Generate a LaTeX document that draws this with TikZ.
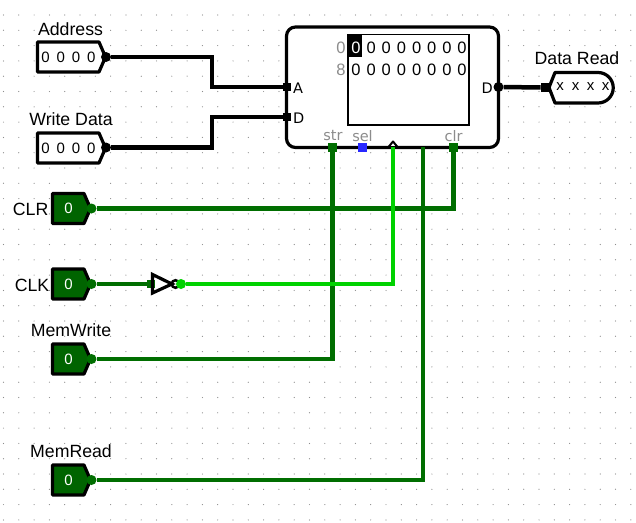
\documentclass[tikz,border=0pt]{standalone}
\usepackage{fontspec}
\setmainfont{Liberation Sans}
\newfontfamily\logicfont{DejaVu Sans}
\definecolor{wireoff}{HTML}{006E00}
\definecolor{wireon}{HTML}{00D200}
\definecolor{pinfill}{HTML}{006400}
\definecolor{portgray}{HTML}{8C8C8C}
\definecolor{portblue}{HTML}{2828FF}
\tikzset{
  wire/.style={line width=4.5pt,line join=miter},
  wirebus/.style={wire,black},
  wirelow/.style={wire,wireoff},
  wirehigh/.style={wire,wireon},
  outline/.style={line width=3.2pt,line join=round,draw=black},
  pinlabel/.style={font=\fontsize{17.7}{20}\selectfont,inner sep=0pt},
  pinbit/.style={font=\fontsize{15}{17}\selectfont,inner sep=0pt},
  membit/.style={font=\fontsize{16.5}{18}\selectfont,inner sep=0pt},
  portlabel/.style={font=\logicfont\fontsize{14.5}{17}\selectfont,inner sep=0pt},
  portname/.style={portlabel,text=portgray},
  port/.style={draw=none,fill=#1,minimum size=8.5pt,inner sep=0pt},
  tip/.style={circle,fill=#1,minimum size=10pt,inner sep=0pt}
}
\begin{document}
\begin{tikzpicture}[x=1pt,y=-1pt]
  \useasboundingbox (0,0) rectangle (636,522);
  \fill[white] (0,0) rectangle (636,522);
  \foreach \i in {0,...,41}
    \foreach \j in {0,...,33}
      \fill[black!45] ({3.5+15.3*\i},{15+15.3*\j}) circle (0.6);

  \draw[outline,fill=white,rounded corners=9] (286.5,27) rectangle (498.5,147.5);
  \draw[line width=1.5pt,fill=white] (348,34.5) rectangle (469,125);
  \fill[black] (348,34.5) rectangle (362,57);
  \node[membit,text=white] (mem0) at (356,47.5) {0};
  \foreach \col/\xm in {1/371.3,2/386.3,3/401.5,4/416.7,5/431.8,6/447,7/462}
    \node[membit] (mem0\col) at (\xm,47.5) {0};
  \foreach \col/\xm in {0/356,1/371.3,2/386.3,3/401.5,4/416.7,5/431.8,6/447,7/462}
    \node[membit] (mem8\col) at (\xm,70) {0};
  \node[membit,text=portgray] (row0) at (341,47.5) {0};
  \node[membit,text=portgray] (row8) at (341,70) {8};

  \node[port=black] (portA) at (287,87) {};
  \node[port=black] (portD) at (287,117) {};
  \node[tip=black] (portOut) at (498.5,87) {};
  \node[port=wireoff] (portStr) at (332.5,147.5) {};
  \node[port=portblue] (portSel) at (362.5,147.5) {};
  \node[port=wireoff] (portClr) at (453.5,147.5) {};
  \coordinate (portClk) at (393,147);
  \coordinate (portRead) at (423,147);
  \node[portlabel,anchor=west] (lblA) at (293,88) {A};
  \node[portlabel,anchor=west] (lblD) at (293,118) {D};
  \node[portlabel,anchor=east] (lblOut) at (493,88) {D};
  \node[portname] (lblStr) at (333,136) {str};
  \node[portname] (lblSel) at (362.5,136) {sel};
  \node[portname] (lblClr) at (453.5,136) {clr};

  \draw[outline,line width=2pt,fill=white] (388.5,147) -- (393,141.5) -- (397.5,147) -- cycle;

  \draw[outline,fill=white] (37.5,42) -- (99,42) -- (105.5,57) -- (99,72) -- (37.5,72) -- cycle;
  \draw[outline,fill=white] (37.5,133) -- (99,133) -- (105.5,148) -- (99,163) -- (37.5,163) -- cycle;
  \node[tip=black] (addrTip) at (106,57) {};
  \node[tip=black] (writeTip) at (106,147.5) {};
  \foreach \pos/\xm in {1/45.5,2/60.7,3/76,4/91.3} {
    \node[pinbit] (addr\pos) at (\xm,57) {0};
    \node[pinbit] (write\pos) at (\xm,148) {0};
  }
  \node[pinlabel] (addrLabel) at (70.5,29) {Address};
  \node[pinlabel] (writeLabel) at (71,119) {Write Data};

  \foreach \nm/\ym in {clr/208.5,clk/284,write/359,read/480} {
    \draw[outline,fill=pinfill] (52.5,\ym-15) -- (84,\ym-15) -- (90.5,\ym) -- (84,\ym+15) -- (52.5,\ym+15) -- cycle;
    \node[pinbit,text=white] (bit\nm) at (68.5,\ym) {0};
    \node[tip=wireoff] (tip\nm) at (91.5,\ym) {};
  }
  \node[pinlabel,anchor=east] (clrLabel) at (48.5,209) {CLR};
  \node[pinlabel,anchor=east] (clkLabel) at (49.5,285) {CLK};
  \node[pinlabel] (writeEnLabel) at (71,330) {MemWrite};
  \node[pinlabel] (readLabel) at (71,451) {MemRead};

  \coordinate (bendA) at (212,57);
  \coordinate (bendD) at (212,147.5);
  \draw[wirebus] (addrTip) -| (bendA) |- (portA);
  \draw[wirebus] (writeTip) -| (bendD) |- (portD);
  \draw[wirelow] (tipclr) -| (portClr);
  \draw[wirelow] (tipwrite) -| (portStr);
  \draw[wirelow] (tipread) -| (portRead);

  \node[port=wireoff] (notIn) at (151,284) {};
  \draw[wirelow,line width=3.5pt] (tipclk) -- (notIn);
  \draw[outline,line join=miter] (152.5,274.5) -- (172,284) -- (152.5,293) -- cycle;
  \draw[line width=2.5pt] (175.5,284) circle (3.8);
  \node[tip=wireon] (notOut) at (181,284) {};
  \draw[wirehigh] (notOut) -| (portClk);

  \node[port=black] (dataIn) at (545,87.5) {};
  \draw[wirebus] (portOut) -- (dataIn);
  \draw[outline,fill=white] (549,87.5) -- (555,72.5) -- (598,72.5) arc (-90:90:15.25) -- (555,103) -- cycle;
  \foreach \pos/\xm in {1/560,2/575.5,3/590.5,4/605.5}
    \node[pinbit] (data\pos) at (\xm,87) {x};
  \node[pinlabel] (dataLabel) at (577,58) {Data Read};
\end{tikzpicture}
\end{document}
